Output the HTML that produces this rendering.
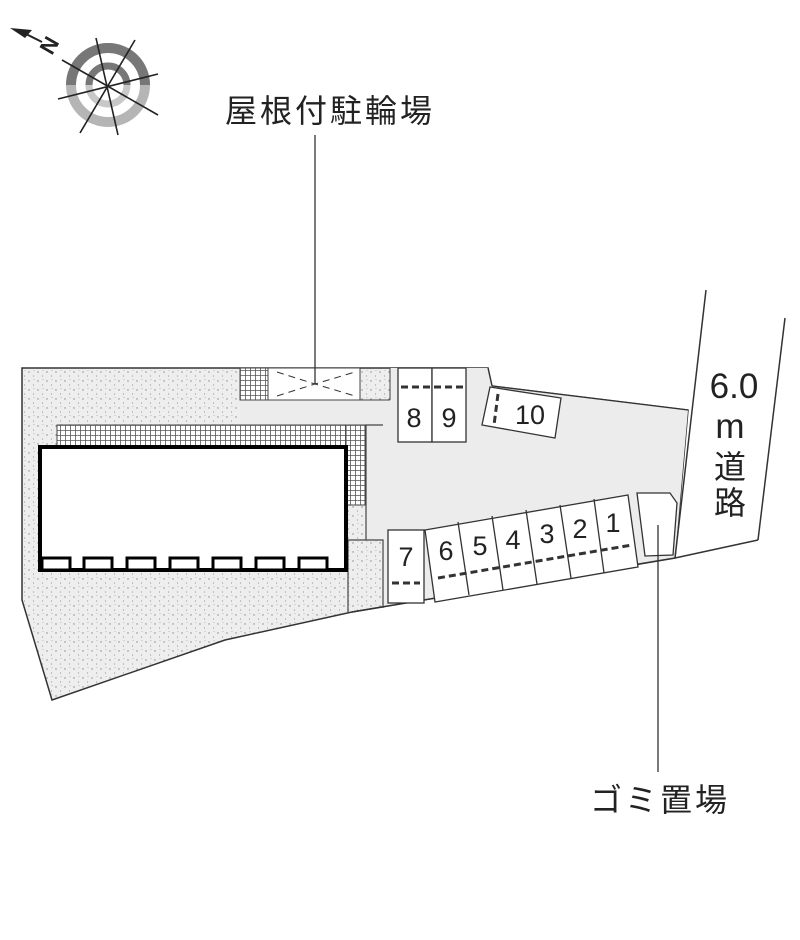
<!DOCTYPE html>
<html><head><meta charset="utf-8"><style>
html,body{margin:0;padding:0;background:#fff;}
svg{display:block;}
text{font-family:"Liberation Sans","Noto Sans CJK JP",sans-serif;fill:#222;}
</style></head><body>
<svg width="800" height="940" viewBox="0 0 800 940" xmlns="http://www.w3.org/2000/svg">
<defs>
<pattern id="dots" width="9" height="9" patternUnits="userSpaceOnUse">
<rect width="9" height="9" fill="#eeeeee"/>
<circle cx="2" cy="3" r="0.7" fill="#888"/>
<circle cx="6.5" cy="7" r="0.6" fill="#999"/>
<circle cx="7" cy="1.5" r="0.5" fill="#aaa"/>
</pattern>
<pattern id="grid" width="5" height="5" patternUnits="userSpaceOnUse">
<rect width="5" height="5" fill="#fff"/>
<path d="M0 0H5M0 0V5" stroke="#555" stroke-width="1.6"/>
</pattern>
</defs>
<!-- compass -->
<g>
<circle cx="108" cy="85" r="37" fill="none" stroke="#b5b5b5" stroke-width="10"/>
<path d="M71 85 A37 37 0 0 1 145 85" fill="none" stroke="#777" stroke-width="10"/>
<circle cx="108" cy="85" r="19" fill="none" stroke="#c8c8c8" stroke-width="7"/>
<path d="M89 85 A19 19 0 0 1 127 85" fill="none" stroke="#777" stroke-width="7"/>
<g stroke="#222" stroke-width="1.6">
<line x1="62" y1="60" x2="158" y2="115"/>
<line x1="96" y1="38" x2="118" y2="135"/>
<line x1="135" y1="40" x2="80" y2="133"/>
<line x1="58" y1="99" x2="158" y2="74"/>
</g>
<path d="M10 28 L32 30 L25 38 Z" fill="#222"/>
<line x1="22" y1="32" x2="42" y2="42" stroke="#222" stroke-width="2"/>
<text x="45" y="60" font-size="22" font-weight="bold" transform="rotate(-60 45 52)">N</text>
</g>
<!-- lot -->
<polygon points="22,368 488,368 492,386 688,410 675,558 352,612 225,640 52,700 22,600" fill="url(#dots)" stroke="#333" stroke-width="1.5"/>
<!-- asphalt -->
<polygon points="240,400 390,400 390,368 488,368 492,386 688,410 675,558 383,607 383,540 366,540 366,425 240,425" fill="#ececec"/>
<line x1="488" y1="368" x2="492" y2="386" stroke="#333" stroke-width="1.3"/>
<line x1="492" y1="386" x2="688" y2="410" stroke="#333" stroke-width="1.3"/>
<line x1="352" y1="612" x2="675" y2="558" stroke="#333" stroke-width="1.5"/>
<path d="M383 425 H366 V540 M348 540 H383 V608 M348 540 V612" fill="none" stroke="#444" stroke-width="1.2"/>
<!-- bike shelter -->
<rect x="240" y="368" width="28" height="32" fill="url(#grid)" stroke="#444"/>
<rect x="268" y="368" width="92" height="32" fill="#fff" stroke="#444"/>
<path d="M277 372 L315 384 L355 372 M277 396 L315 384 L355 396" fill="none" stroke="#333" stroke-dasharray="7,5"/>
<line x1="240" y1="400" x2="390" y2="400" stroke="#444"/>
<line x1="390" y1="368" x2="390" y2="400" stroke="#444"/>
<!-- building -->
<rect x="57" y="425" width="308" height="22" fill="url(#grid)" stroke="#444"/>
<rect x="346" y="425" width="19" height="80" fill="url(#grid)" stroke="#444"/>
<rect x="40" y="447" width="306" height="123" fill="#fff" stroke="#000" stroke-width="4"/>
<g fill="#fff" stroke="#000" stroke-width="3">
<rect x="42" y="558" width="28" height="12"/><rect x="84" y="558" width="28" height="12"/>
<rect x="127" y="558" width="28" height="12"/><rect x="170" y="558" width="28" height="12"/>
<rect x="213" y="558" width="28" height="12"/><rect x="256" y="558" width="28" height="12"/>
<rect x="299" y="558" width="28" height="12"/>
</g>
<!-- spaces -->
<g fill="#fff" stroke="#333" stroke-width="1.3">
<rect x="398" y="368" width="34" height="74"/><rect x="432" y="368" width="34" height="74"/>
<polygon points="490,387 561,398 555,438 482,425"/>
<rect x="388" y="530" width="36" height="73"/>
<polygon points="425,530 628,495 638,567 435,602"/>
<polygon points="637,493 670,493 677,503 673,555 645,556"/>
</g>
<g stroke="#333" stroke-width="1.3">
<line x1="458" y1="522" x2="469" y2="595"/><line x1="492" y1="516" x2="503" y2="590"/>
<line x1="526" y1="510" x2="537" y2="584"/><line x1="560" y1="505" x2="571" y2="578"/>
<line x1="594" y1="499" x2="604" y2="573"/>
</g>
<g stroke="#333" stroke-width="3" stroke-dasharray="7,4">
<line x1="401" y1="387" x2="463" y2="387"/>
<line x1="392" y1="583" x2="420" y2="583"/>
<line x1="438" y1="578" x2="632" y2="545"/>
<line x1="498" y1="394" x2="494" y2="425"/>
</g>
<g font-size="27" text-anchor="middle">
<text x="414" y="427">8</text><text x="449" y="427">9</text><text x="530" y="424">10</text>
<text x="406" y="566">7</text><text x="446" y="560">6</text><text x="480" y="555">5</text>
<text x="513" y="549">4</text><text x="547" y="543">3</text><text x="580" y="538">2</text><text x="613" y="532">1</text>
</g>
<!-- road -->
<g stroke="#333" stroke-width="1.5" fill="none">
<line x1="706" y1="290" x2="675" y2="558"/>
<line x1="785" y1="318" x2="758" y2="540"/>
<line x1="675" y1="558" x2="758" y2="540"/>
</g>
<g font-size="35" text-anchor="middle">
<text x="734" y="398">6.0</text>
<text x="730" y="438">m</text>
<text x="730" y="478" font-size="32">道</text>
<text x="730" y="514" font-size="32">路</text>
</g>
<!-- labels -->
<line x1="315" y1="135" x2="315" y2="384" stroke="#333" stroke-width="1.3"/>
<text x="330" y="122" font-size="32" letter-spacing="3" text-anchor="middle">屋根付駐輪場</text>
<line x1="658" y1="525" x2="658" y2="772" stroke="#333" stroke-width="1.3"/>
<text x="660" y="811" font-size="32" letter-spacing="3" text-anchor="middle">ゴミ置場</text>
</svg>
</body></html>
